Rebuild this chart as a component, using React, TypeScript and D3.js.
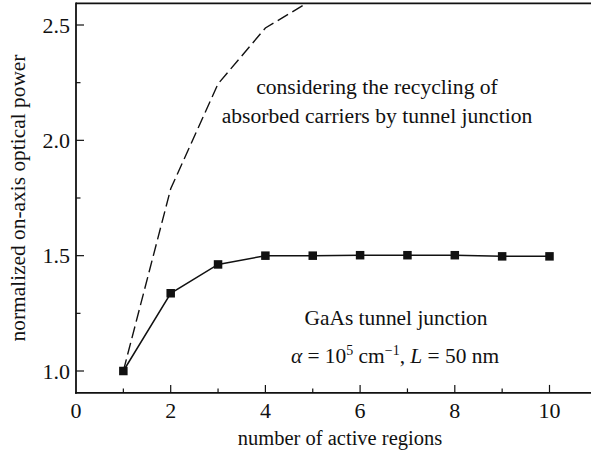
import React from "react";
import * as d3 from "d3";

const regions = [1, 2, 3, 4, 5, 6, 7, 8, 9, 10];
const solidValues = [1.0, 1.337, 1.462, 1.5, 1.5, 1.502, 1.502, 1.502, 1.497, 1.497];
const dashedRegions = [1, 2, 3, 4, 5];
const dashedValues = [1.0, 1.79, 2.245, 2.487, 2.61];
const xTicks = [0, 2, 4, 6, 8, 10];
const xMinor = [1, 3, 5, 7, 9];
const yTicks = [1.0, 1.5, 2.0, 2.5];
const yMinor = [1.25, 1.75, 2.25];

const W = 591;
const H = 456;
const FONT = "'Liberation Serif', 'DejaVu Serif', serif";

export default function App() {
  const x = d3.scaleLinear().domain([0, 10]).range([76, 549.5]);
  const y = d3.scaleLinear().domain([1.0, 2.5]).range([371, 25]);
  const xMax = x.invert(W);
  const yLo = 0.905;
  const yHi = 2.594;
  const left = x(0);
  const right = x(xMax);
  const bottom = y(yLo);
  const top = y(yHi);

  const line = d3
    .line<[number, number]>()
    .x((d) => x(d[0]))
    .y((d) => y(d[1]));

  const solidPath = line(regions.map((r, i) => [r, solidValues[i]]))!;
  const dashedPath = line(dashedRegions.map((r, i) => [r, dashedValues[i]]))!;
  const ink = "#111";
  const sq = 8.5;

  return (
    <svg width={W} height={H} style={{ position: "absolute", left: 0, top: 0, fontFamily: FONT }}>
      <rect x={0} y={0} width={W} height={H} fill="#fff" />
      <defs>
        <clipPath id="plot">
          <rect x={left} y={top} width={right - left} height={bottom - top} />
        </clipPath>
      </defs>
      {/* frame */}
      <line x1={left} y1={top} x2={right} y2={top} stroke={ink} strokeWidth={1.8} />
      <line x1={left} y1={top - 0.9} x2={left} y2={bottom + 0.9} stroke={ink} strokeWidth={1.8} />
      <line x1={left - 0.9} y1={bottom} x2={right} y2={bottom} stroke={ink} strokeWidth={1.8} />

      {/* x ticks */}
      {xTicks.map((t) => (
        <g key={"xt" + t}>
          {t !== 0 && (
            <line x1={x(t)} y1={bottom} x2={x(t)} y2={bottom - 8} stroke={ink} strokeWidth={1.2} />
          )}
          <text x={x(t)} y={418} textAnchor="middle" fontSize={22} fill={ink}>
            {t}
          </text>
        </g>
      ))}
      {xMinor.map((t) => (
        <line key={"xm" + t} x1={x(t)} y1={bottom} x2={x(t)} y2={bottom - 4.5} stroke={ink} strokeWidth={1.2} />
      ))}

      {/* y ticks */}
      {yTicks.map((t) => (
        <g key={"yt" + t}>
          <line x1={left} y1={y(t)} x2={left + 8} y2={y(t)} stroke={ink} strokeWidth={1.2} />
          <text x={70} y={y(t) + 7.5} textAnchor="end" fontSize={22} fill={ink}>
            {t.toFixed(1)}
          </text>
        </g>
      ))}
      {yMinor.map((t) => (
        <line key={"ym" + t} x1={left} y1={y(t)} x2={left + 4.5} y2={y(t)} stroke={ink} strokeWidth={1.2} />
      ))}

      {/* data */}
      <g clipPath="url(#plot)">
        <path d={dashedPath} fill="none" stroke={ink} strokeWidth={1.4} strokeDasharray="12,5" />
        <path d={solidPath} fill="none" stroke={ink} strokeWidth={1.5} />
        {regions.map((r, i) => (
          <rect
            key={"m" + r}
            x={x(r) - sq / 2}
            y={y(solidValues[i]) - sq / 2}
            width={sq}
            height={sq}
            fill={ink}
          />
        ))}
      </g>

      {/* axis labels */}
      <text x={340} y={445} textAnchor="middle" fontSize={20.5} fill={ink}>
        number of active regions
      </text>
      <text
        transform={`translate(25, 198) rotate(-90)`}
        textAnchor="middle"
        fontSize={21.4}
        fill={ink}
      >
        normalized on-axis optical power
      </text>

      {/* annotations */}
      <text x={377} y={94} textAnchor="middle" fontSize={21.6} fill={ink}>
        considering the recycling of
      </text>
      <text x={377} y={122.5} textAnchor="middle" fontSize={21.6} fill={ink}>
        absorbed carriers by tunnel junction
      </text>
      <text x={396} y={325} textAnchor="middle" fontSize={21.4} fill={ink}>
        GaAs tunnel junction
      </text>
      <text x={395} y={363} textAnchor="middle" fontSize={21.4} fill={ink}>
        <tspan fontStyle="italic">α</tspan>
        <tspan> = 10</tspan>
        <tspan fontSize={14} dy={-8}>5</tspan>
        <tspan dy={8}> cm</tspan>
        <tspan fontSize={14} dy={-8}>−1</tspan>
        <tspan dy={8}>, </tspan>
        <tspan fontStyle="italic">L</tspan>
        <tspan> = 50 nm</tspan>
      </text>
    </svg>
  );
}
